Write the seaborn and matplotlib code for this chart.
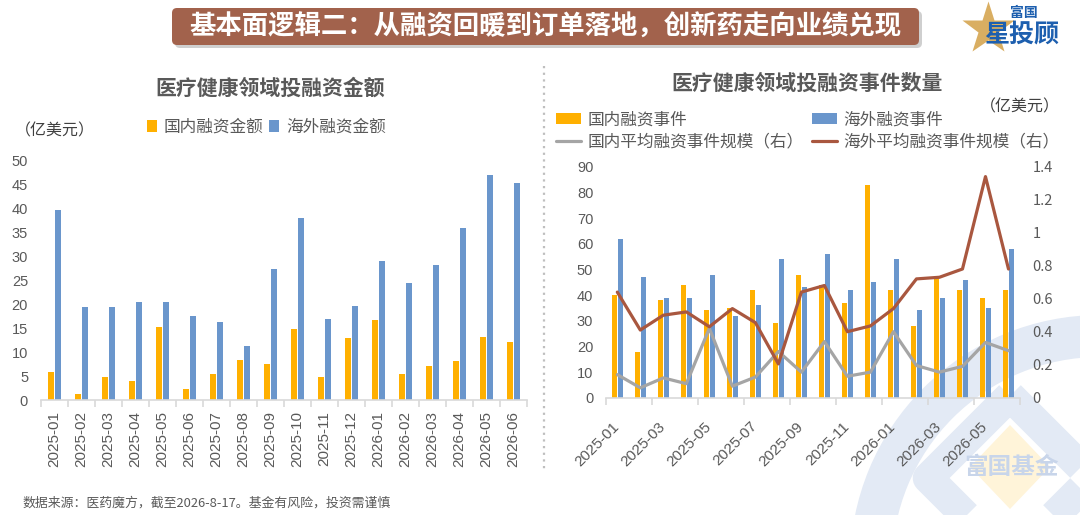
import numpy as np
import pandas as pd
import matplotlib
matplotlib.use("Agg")
import matplotlib.pyplot as plt
import seaborn as sns
from matplotlib.patches import FancyBboxPatch, Wedge, Polygon
from matplotlib.lines import Line2D
from matplotlib.ticker import FixedLocator

# ---------------- data ----------------
months = ["2025-01", "2025-02", "2025-03", "2025-04", "2025-05", "2025-06",
          "2025-07", "2025-08", "2025-09", "2025-10", "2025-11", "2025-12",
          "2026-01", "2026-02", "2026-03", "2026-04", "2026-05", "2026-06"]

dom_amount = [5.8, 1.2, 4.8, 4.0, 15.3, 2.4, 5.5, 8.4, 7.5, 14.9, 4.8, 12.9,
              16.8, 5.5, 7.2, 8.2, 13.2, 12.2]
ovs_amount = [39.7, 19.5, 19.5, 20.5, 20.5, 17.5, 16.3, 11.3, 27.5, 38.0, 17.0, 19.7,
              29.0, 24.5, 28.3, 36.0, 47.0, 45.5]

dom_events = [40, 18, 38, 44, 34, 35, 42, 29, 48, 44, 37, 83, 42, 28, 47, 42, 39, 42]
ovs_events = [62, 47, 39, 39, 48, 32, 36, 54, 43, 56, 42, 45, 54, 34, 39, 46, 35, 58]

dom_avg = [0.14, 0.06, 0.12, 0.085, 0.42, 0.07, 0.125, 0.28, 0.155, 0.34, 0.13, 0.155,
           0.40, 0.195, 0.155, 0.19, 0.335, 0.285]
ovs_avg = [0.64, 0.41, 0.50, 0.52, 0.43, 0.54, 0.455, 0.205, 0.64, 0.68, 0.40, 0.435,
           0.54, 0.72, 0.73, 0.78, 1.34, 0.78]

left_labels = ["国内融资金额", "海外融资金额"]
right_bar_labels = ["国内融资事件", "海外融资事件"]
right_line_labels = ["国内平均融资事件规模（右）", "海外平均融资事件规模（右）"]
left_yticks = [0, 5, 10, 15, 20, 25, 30, 35, 40, 45, 50]
right_yticks = [0, 10, 20, 30, 40, 50, 60, 70, 80, 90]
right2_yticks = [0, 0.2, 0.4, 0.6, 0.8, 1.0, 1.2, 1.4]

banner_title = "基本面逻辑二：从融资回暖到订单落地，创新药走向业绩兑现"
left_title = "医疗健康领域投融资金额"
right_title = "医疗健康领域投融资事件数量"
unit_text = "（亿美元）"
footer = "数据来源：医药魔方，截至2026-8-17。基金有风险，投资需谨慎"

# ---------------- style ----------------
sns.set_theme(style="white")
plt.rcParams["font.family"] = ["Noto Sans CJK SC", "DejaVu Sans"]
plt.rcParams["axes.unicode_minus"] = False

ORANGE = "#FFB000"
BLUE = "#6A96CC"
GRAY_LINE = "#A5A5A5"
BROWN = "#A9573F"
TXT = "#595959"
AXIS = "#D9D9D9"
NUMFONT = ["Liberation Sans", "DejaVu Sans"]

W, H = 1080, 515
fig = plt.figure(figsize=(W / 100, H / 100), dpi=100)
fig.patch.set_facecolor("white")

# background / decoration axes in pixel coordinates
bg = fig.add_axes([0, 0, 1, 1])
bg.set_xlim(0, W)
bg.set_ylim(H, 0)
bg.axis("off")
bg.set_zorder(0)

# watermark
WM = "#E3EAF5"
bg.add_patch(Wedge((1100, 565), 250, 0, 360, width=42, facecolor=WM, edgecolor="none"))
bg.add_patch(Polygon([(1010, 396), (1092, 478), (1010, 560), (928, 478)], closed=True,
                     fill=False, edgecolor=WM, linewidth=22, joinstyle="round"))
bg.add_patch(Polygon([(1010, 425), (1050, 467), (1010, 509), (970, 467)], closed=True,
                     facecolor="#FFF4D9", edgecolor="none"))
bg.text(1012, 467, "富国基金", ha="center", va="center", fontsize=17, fontweight="bold",
        color="#C8D5EA")

# banner with shadow
bg.add_patch(FancyBboxPatch((175, 11), 747, 37, boxstyle="round,pad=0,rounding_size=5",
                            facecolor="#CFCFCF", edgecolor="none"))
bg.add_patch(FancyBboxPatch((172, 8), 747, 37, boxstyle="round,pad=0,rounding_size=5",
                            facecolor="#A2624C", edgecolor="none"))
bg.text(545, 27, banner_title, ha="center", va="center", fontsize=19, fontweight="bold",
        color="white")

# logo
bg.add_line(Line2D([988], [29], marker="*", markersize=40, color="#D9AE62",
                   markeredgecolor="none"))
bg.text(1024, 13, "富国", ha="center", va="center", fontsize=10, fontweight="bold",
        color="#1D5FAF")
bg.text(1022, 35, "星投顾", ha="center", va="center", fontsize=18, fontweight="bold",
        color="#1D5FAF")

# separator
bg.plot([544, 544], [66, 470], color="#BFBFBF", lw=1.6, ls=(0, (1, 2)))

# titles and texts
bg.text(270, 88, left_title, ha="center", va="center", fontsize=15, fontweight="bold", color=TXT)
bg.text(807, 83, right_title, ha="center", va="center", fontsize=15, fontweight="bold", color=TXT)
bg.text(15, 131, unit_text, ha="left", va="center", fontsize=11.5, color="#404040")
bg.text(980, 107, unit_text, ha="left", va="center", fontsize=11.5, color="#404040")
bg.text(22, 503, footer, ha="left", va="center", fontsize=9.3, color=TXT)


def px_rect(x0, y0, x1, y1):
    return [x0 / W, 1 - y1 / H, (x1 - x0) / W, (y1 - y0) / H]


def style_axis(ax):
    for s in ["top", "right", "left"]:
        ax.spines[s].set_visible(False)
    ax.spines["bottom"].set_color(AXIS)
    ax.spines["bottom"].set_linewidth(1.2)
    ax.set_facecolor("none")
    ax.set_xlabel("")
    ax.set_ylabel("")
    ax.grid(False)


# ---------------- left chart ----------------
axL = fig.add_axes(px_rect(40.6, 161, 527, 400))
axL.set_zorder(2)
dfL = pd.DataFrame({
    "月份": months * 2,
    "金额": dom_amount + ovs_amount,
    "类型": [left_labels[0]] * len(months) + [left_labels[1]] * len(months),
})
sns.barplot(data=dfL, x="月份", y="金额", hue="类型", palette=[ORANGE, BLUE],
            saturation=1, width=0.52, gap=0.12, linewidth=0, ax=axL)
style_axis(axL)
axL.set_ylim(0, 50)
axL.set_xlim(-0.5, len(months) - 0.5)
axL.set_yticks(left_yticks)
axL.tick_params(axis="y", length=0, pad=9, labelsize=10.5, labelcolor=TXT)
axL.set_xticks(range(len(months)))
axL.set_xticklabels(months, rotation=90)
axL.xaxis.set_minor_locator(FixedLocator(np.arange(-0.5, len(months), 1.0)))
axL.tick_params(axis="x", which="major", length=0, pad=8, labelsize=11, labelcolor=TXT)
axL.tick_params(axis="x", which="minor", length=5, width=1.2, color=AXIS, bottom=True)
for t in axL.get_xticklabels() + axL.get_yticklabels():
    t.set_fontfamily(NUMFONT)
hL, lL = axL.get_legend_handles_labels()
axL.legend(hL, lL, loc="center left", bbox_to_anchor=(147 / W, 1 - 127 / H),
           bbox_transform=fig.transFigure, ncol=2, frameon=False, fontsize=12,
           handlelength=0.6, handleheight=0.7, handletextpad=0.4, columnspacing=0.35,
           borderpad=0, borderaxespad=0, labelcolor=TXT)

# ---------------- right chart ----------------
axR = fig.add_axes(px_rect(605.8, 166.7, 1020, 397.7))
axR.set_zorder(2)
dfR = pd.DataFrame({
    "月份": months * 2,
    "事件数": dom_events + ovs_events,
    "类型": [right_bar_labels[0]] * len(months) + [right_bar_labels[1]] * len(months),
})
sns.barplot(data=dfR, x="月份", y="事件数", hue="类型", palette=[ORANGE, BLUE],
            saturation=1, width=0.52, gap=0.15, linewidth=0, ax=axR)
style_axis(axR)
axR.set_ylim(0, 90)
axR.set_xlim(-0.5, len(months) - 0.5)
axR.set_yticks(right_yticks)
axR.tick_params(axis="y", length=0, pad=9, labelsize=10.5, labelcolor=TXT)
major_idx = list(range(0, len(months), 2))
axR.set_xticks(major_idx)
axR.set_xticklabels([months[i] for i in major_idx], rotation=45, ha="right",
                    va="center", rotation_mode="anchor")
axR.xaxis.set_minor_locator(FixedLocator(np.arange(-0.5, len(months), 2.0)))
axR.tick_params(axis="x", which="major", length=0, pad=19, labelsize=11, labelcolor=TXT)
axR.tick_params(axis="x", which="minor", length=5, width=1.2, color=AXIS, bottom=True)
for t in axR.get_xticklabels() + axR.get_yticklabels():
    t.set_fontfamily(NUMFONT)

ax2 = axR.twinx()
ax2.set_zorder(3)
ax2.patch.set_visible(False)
xpos = np.arange(len(months))
sns.lineplot(x=xpos, y=dom_avg, color=GRAY_LINE, lw=2.3, ax=ax2, label=right_line_labels[0])
sns.lineplot(x=xpos, y=ovs_avg, color=BROWN, lw=2.3, ax=ax2, label=right_line_labels[1])
ax2.set_ylim(0, 1.4)
ax2.set_xlim(-0.5, len(months) - 0.5)
ax2.set_yticks(right2_yticks)
ax2.set_yticklabels(["0" if v == 0 else ("1" if v == 1 else f"{v:.1f}") for v in right2_yticks])
ax2.tick_params(axis="y", length=0, pad=9, labelsize=10.5, labelcolor=TXT)
for s in ["top", "right", "left", "bottom"]:
    ax2.spines[s].set_visible(False)
ax2.set_ylabel("")
ax2.grid(False)
if ax2.get_legend() is not None:
    ax2.get_legend().remove()

hb, lb = axR.get_legend_handles_labels()
if axR.get_legend() is not None:
    axR.get_legend().remove()
hl, ll = ax2.get_legend_handles_labels()
handles = [hb[0], hl[0], hb[1], hl[1]]
labels = [lb[0], ll[0], lb[1], ll[1]]
ax2.legend(handles, labels, loc="center left", bbox_to_anchor=(556 / W, 1 - 131 / H),
           bbox_transform=fig.transFigure, ncol=2, frameon=False, fontsize=12,
           handlelength=1.5, handleheight=0.6, handletextpad=0.4, columnspacing=0.5,
           labelspacing=0.3, borderpad=0, borderaxespad=0, labelcolor=TXT)

fig.savefig("out.png", dpi=100, facecolor="white")
